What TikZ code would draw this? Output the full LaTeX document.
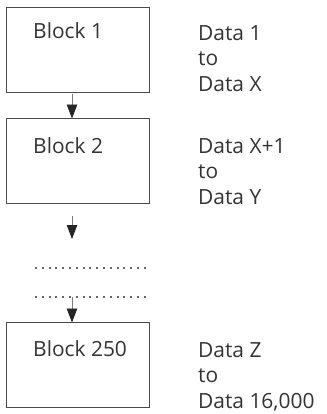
\documentclass[tikz,border=0pt]{standalone}
\usepackage{fontspec}
\setmainfont{Open Sans}
\usetikzlibrary{positioning, arrows.meta}

\definecolor{inkgray}{HTML}{333333}
\definecolor{framegray}{HTML}{4A4A4A}
\definecolor{shaftgray}{HTML}{7A7A7A}

\tikzset{
  blockbox/.style={draw=framegray, line width=0.9bp, rectangle, anchor=north west,
    minimum width=143bp, minimum height=85bp, inner sep=0pt, outer sep=0pt},
  blocktext/.style={anchor=base west, inner sep=0pt, text=inkgray,
    font=\fontsize{21}{25.5}\selectfont},
  datatext/.style={blocktext, align=left},
  flow/.style={draw=shaftgray, line width=0.8bp,
    -{Triangle[length=14bp,width=10.5bp,fill=black!85,color=black!85]}},
  gapline/.style={draw=black!60, line width=1.6bp, line cap=butt,
    dash pattern=on 2bp off 4.8bp}
}

\begin{document}
\begin{tikzpicture}
	[x=1bp, y=-1bp]
   \useasboundingbox (0,0) rectangle (327,414);
   % blocks
   \node[blockbox] (b_1) at (6,7) {};
   \node[blockbox] (b_2) at (6,118.5) {};
   \node[blockbox] (b_3) at (6,322.5) {};
   \node[blocktext] (t_1) at (33,38.5) {Block 1};
   \node[blocktext] (t_2) at (33,153) {Block 2};
   \node[blocktext] (t_3) at (33,356.5) {Block 250};
   % data ranges (base is the last line)
   \node[datatext] (d_1) at (198,91) {Data 1\\to\\Data X};
   \node[datatext] (d_2) at (198,204) {Data X+1\\to\\Data Y};
   \node[datatext] (d_3) at (198,408) {Data Z\\to\\Data 16,000};
   % gap between block 2 and block 250
   \coordinate (g_1) at (72,216);
   \coordinate (g_2) at (72,239);
   \coordinate (l_1) at (35,268);
   \coordinate (r_1) at (150,268);
   \coordinate (l_2) at (35,297);
   \coordinate (r_2) at (150,297);
   \coordinate (m_2) at (72,297);
    \path[gapline] (l_1) -- (r_1);
    \path[gapline] (l_2) -- (r_2);
    \path[flow] (b_1.south -| g_1) ++(0,1.5) -- (b_2.north -| g_1);
    \path[flow] (g_1) -- (g_2);
    \path[flow] (m_2) -- (b_3.north -| m_2);

\end{tikzpicture}
\end{document}
